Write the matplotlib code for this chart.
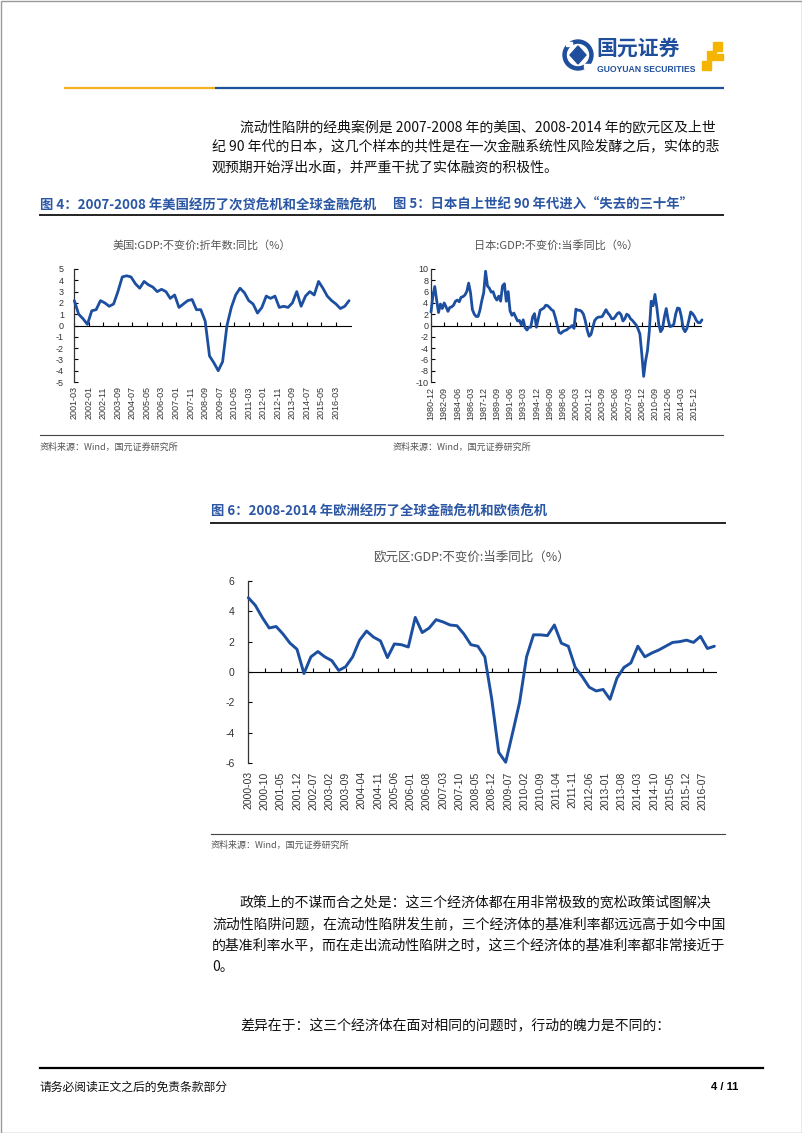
import numpy as np
import matplotlib.pyplot as plt
from matplotlib.patches import Circle, Polygon, Rectangle

plt.rcParams['font.family'] = ['Noto Sans CJK SC', 'DejaVu Sans']
plt.rcParams['axes.unicode_minus'] = False

W, H = 802, 1133
LINE = '#1c4f9f'
TITLE = '#2a56a3'

# ---------------- data (quarterly) ----------------
us_start = '2001-03'
us_gdp = [2.2, 1.0, 0.6, 0.1, 1.3, 1.4, 2.2, 2.0,
          1.7, 1.9, 3.0, 4.3, 4.4, 4.3, 3.7, 3.3,
          3.9, 3.6, 3.4, 3.0, 3.2, 3.0, 2.4, 2.7,
          1.6, 1.9, 2.2, 2.3, 1.4, 1.4, 0.4, -2.7,
          -3.3, -4.0, -3.2, 0.0, 1.6, 2.7, 3.3, 2.9,
          2.2, 1.9, 1.1, 1.6, 2.6, 2.4, 2.6, 1.6,
          1.7, 1.6, 2.0, 3.0, 1.7, 2.6, 3.0, 2.7,
          3.9, 3.3, 2.6, 2.2, 1.9, 1.5, 1.7, 2.2]
us_labels = ['2001-03', '2002-01', '2002-11', '2003-09', '2004-07', '2005-05',
             '2006-03', '2007-01', '2007-11', '2008-09', '2009-07', '2010-05',
             '2011-03', '2012-01', '2012-11', '2013-09', '2014-07', '2015-05',
             '2016-03']

jp_start = '1980-12'
jp_gdp = [2.4, 5.2, 6.9, 4.5, 2.3, 3.8, 3.0, 4.0, 3.3, 2.5,
          3.2, 3.3, 3.6, 4.3, 4.5, 4.2, 5.0, 5.1, 5.4, 6.0,
          7.5, 5.8, 2.8, 2.0, 1.6, 1.6, 2.7, 4.4, 5.8, 9.6,
          7.0, 6.6, 5.9, 6.0, 5.0, 4.5, 5.2, 4.3, 7.0, 7.4,
          4.3, 6.0, 2.6, 1.8, 2.2, 1.5, 0.8, 0.9, 0.1, 1.0,
          -0.4, -0.8, -0.3, -0.3, 1.5, 2.1, -0.3, 1.2, 2.7, 2.9,
          3.1, 3.6, 3.5, 3.2, 2.8, 2.6, 1.5, 0.2, -1.2, -1.4,
          -1.1, -0.9, -0.8, -0.5, -0.3, 0.0, -0.5, 2.9, 2.7, 2.7,
          2.5, 2.0, 0.8, -0.8, -1.9, -1.6, -0.3, 0.9, 1.3, 1.5,
          1.5, 1.6, 2.2, 2.8, 2.2, 1.8, 1.2, 1.2, 1.6, 2.1,
          2.3, 1.9, 0.8, 1.2, 2.0, 1.8, 1.2, 0.9, 0.5, 0.1,
          -0.6, -1.5, -5.0, -9.0, -6.3, -4.5, -1.0, 4.3, 3.5, 5.5,
          3.2, 0.3, -1.1, -0.6, 1.5, 3.0, 1.0, -0.2, -0.1, 0.2,
          2.0, 3.1, 3.0, 1.6, -0.5, -1.1, -0.5, 0.9, 2.4, 2.1,
          1.6, 0.9, 0.5, 0.5, 1.0]
jp_labels = ['1980-12', '1982-09', '1984-06', '1986-03', '1987-12', '1989-09',
             '1991-06', '1993-03', '1994-12', '1996-09', '1998-06', '2000-03',
             '2001-12', '2003-09', '2005-06', '2007-03', '2008-12', '2010-09',
             '2012-06', '2014-03', '2015-12']

ez_start = '2000-03'
ez_gdp = [4.9, 4.4, 3.6, 2.9, 3.0, 2.5, 1.9, 1.5, -0.1, 1.0,
          1.35, 1.0, 0.75, 0.1, 0.35, 1.0, 2.1, 2.7, 2.3, 2.05,
          0.95, 1.85, 1.8, 1.65, 3.6, 2.6, 2.9, 3.45, 3.3, 3.1,
          3.05, 2.5, 1.8, 1.7, 1.0, -1.8, -5.3, -5.95, -4.0, -2.0,
          1.0, 2.45, 2.45, 2.4, 3.1, 1.9, 1.7, 0.3, -0.3, -1.0,
          -1.25, -1.15, -1.8, -0.4, 0.3, 0.6, 1.7, 1.0, 1.25, 1.45,
          1.7, 1.95, 2.0, 2.1, 1.95, 2.35, 1.55, 1.7]
ez_labels = ['2000-03', '2000-10', '2001-05', '2001-12', '2002-07', '2003-02',
             '2003-09', '2004-04', '2004-11', '2005-06', '2006-01', '2006-08',
             '2007-03', '2007-10', '2008-05', '2008-12', '2009-07', '2010-02',
             '2010-09', '2011-04', '2011-11', '2012-06', '2013-01', '2013-08',
             '2014-03', '2014-10', '2015-05', '2015-12', '2016-07']

para1 = ['流动性陷阱的经典案例是 2007-2008 年的美国、2008-2014 年的欧元区及上世',
         '纪 90 年代的日本，这几个样本的共性是在一次金融系统性风险发酵之后，实体的悲',
         '观预期开始浮出水面，并严重干扰了实体融资的积极性。']
para2 = ['政策上的不谋而合之处是：这三个经济体都在用非常极致的宽松政策试图解决',
         '流动性陷阱问题，在流动性陷阱发生前，三个经济体的基准利率都远远高于如今中国',
         '的基准利率水平，而在走出流动性陷阱之时，这三个经济体的基准利率都非常接近于',
         '0。']
para3 = '差异在于：这三个经济体在面对相同的问题时，行动的魄力是不同的：'


def months(label, start):
    y, m = map(int, label.split('-'))
    y0, m0 = map(int, start.split('-'))
    return (y - y0) * 12 + (m - m0)


fig = plt.figure(figsize=(W / 100, H / 100), dpi=100)

# page layer in pixel coordinates
bg = fig.add_axes([0, 0, 1, 1])
bg.set_xlim(0, W)
bg.set_ylim(H, 0)
bg.axis('off')
bg.add_patch(Rectangle((0.5, 0.5), W - 1, H - 1, fill=False, ec='#9a9a9a', lw=1))

# header logo
bg.add_patch(Circle((578, 55), 15, color='#1f4e9c'))
bg.add_patch(Circle((578, 55), 10.5, color='white'))
bg.add_patch(Polygon([(578, 46), (586, 55), (578, 64), (570, 55)], color='#1f4e9c'))
bg.add_patch(Rectangle((566, 42), 6, 4, color='white'))
bg.add_patch(Rectangle((584, 64), 6, 4, color='white'))
bg.text(596, 48, '国元证券', fontsize=15, fontweight='bold', color='#1f4e9c', va='center')
bg.text(597, 69, 'GUOYUAN SECURITIES', fontsize=6.2, fontweight='bold', color='#1f4e9c',
        va='center', family='Liberation Sans')
for (x, y, s) in [(713, 42, 9), (707, 51, 9), (702, 61, 9), (717, 54, 6)]:
    bg.add_patch(Rectangle((x, y), s, s, color='#f5b400'))

bg.plot([64, 215], [88, 88], color='#f2b01e', lw=1.6, solid_capstyle='butt')
bg.plot([215, 724], [88, 88], color='#1f4e9c', lw=1.6, solid_capstyle='butt')

# body text
for i, s in enumerate(para1):
    bg.text(240 if i == 0 else 212, 127 + 20 * i, s, fontsize=10, va='center', color='#111')
for i, s in enumerate(para2):
    bg.text(240 if i == 0 else 212, 903 + 21.3 * i, s, fontsize=10, va='center', color='#111')
bg.text(240, 1025, para3, fontsize=10, va='center', color='#111')

# figure titles and rules
bg.text(40, 205, '图 4：2007-2008 年美国经历了次贷危机和全球金融危机', fontsize=9.6,
        fontweight='bold', color=TITLE, va='center')
bg.text(393, 205, '图 5：日本自上世纪 90 年代进入“失去的三十年”', fontsize=9.6,
        fontweight='bold', color=TITLE, va='center')
bg.plot([40, 723], [215, 215], color='#222', lw=1.4)
bg.plot([40, 723], [435, 435], color='#444', lw=0.8)
bg.text(40, 447, '资料来源：Wind，国元证券研究所', fontsize=6.5, color='#555', va='center')
bg.text(393, 447, '资料来源：Wind，国元证券研究所', fontsize=6.5, color='#555', va='center')

bg.text(211, 512, '图 6：2008-2014 年欧洲经历了全球金融危机和欧债危机', fontsize=9.6,
        fontweight='bold', color=TITLE, va='center')
bg.plot([211, 725], [523, 523], color='#222', lw=1.4)
bg.plot([211, 725], [834, 834], color='#444', lw=0.8)
bg.text(211, 845, '资料来源：Wind，国元证券研究所', fontsize=6.5, color='#555', va='center')

bg.text(202, 245, '美国:GDP:不变价:折年数:同比（%）', fontsize=8, color='#555',
        va='center', ha='center')
bg.text(556, 245, '日本:GDP:不变价:当季同比（%）', fontsize=8, color='#555',
        va='center', ha='center')
bg.text(471, 557, '欧元区:GDP:不变价:当季同比（%）', fontsize=9, color='#555',
        va='center', ha='center')

# footer
bg.plot([40, 763], [1068, 1068], color='black', lw=1.6)
bg.text(40, 1087, '请务必阅读正文之后的免责条款部分', fontsize=8.5, va='center', color='#111')
bg.text(738, 1087, '4 / 11', fontsize=8, fontweight='bold', va='center', ha='right',
        family='Liberation Sans')


def chart(rect, start, values, labels, xmax, ylim, ystep, fs, ypad, xpad, lw):
    l, t, r, b = rect
    ax = fig.add_axes([l / W, 1 - b / H, (r - l) / W, (b - t) / H])
    ax.patch.set_alpha(0)
    x = np.arange(len(values)) * 3
    tx = [months(s, start) for s in labels]
    ax.axhline(0, color='black', lw=0.8, zorder=1)
    ax.plot(tx, np.zeros(len(tx)), ls='none', marker=2, ms=3, mew=0.8,
            color='black', clip_on=False, zorder=1)
    ax.plot(x, values, color=LINE, lw=lw, solid_joinstyle='round',
            solid_capstyle='round', clip_on=False, zorder=3)
    ax.set_xlim(0, xmax)
    ax.set_ylim(*ylim)
    yt = np.arange(ylim[0], ylim[1] + ystep, ystep)
    ax.set_yticks(yt, [str(int(v)) for v in yt])
    ax.set_xticks(tx, labels, rotation=90)
    for s in ['top', 'right', 'bottom']:
        ax.spines[s].set_visible(False)
    ax.spines['left'].set_color('#333')
    ax.spines['left'].set_linewidth(0.9)
    ax.tick_params(axis='x', length=0, pad=xpad, labelsize=fs, labelcolor='#333')
    ax.tick_params(axis='y', direction='in', length=3, width=0.8, pad=ypad,
                   labelsize=fs, labelcolor='#333')
    for lab in ax.get_xticklabels() + ax.get_yticklabels():
        lab.set_fontfamily('Liberation Sans')
    return ax


chart((74.3, 269, 352, 382), us_start, us_gdp, us_labels, 191, (-5, 5), 1, 6.5, 7.5, 3, 2.0)
chart((431, 269, 702, 382), jp_start, jp_gdp, jp_labels, 432, (-10, 10), 2, 6.5, 2, 3.5, 2.0)
chart((248.3, 581, 716.7, 763), ez_start, ez_gdp, ez_labels, 202, (-6, 6), 2, 7.5, 10, 6, 2.1)

fig.savefig('out.png', dpi=100)
